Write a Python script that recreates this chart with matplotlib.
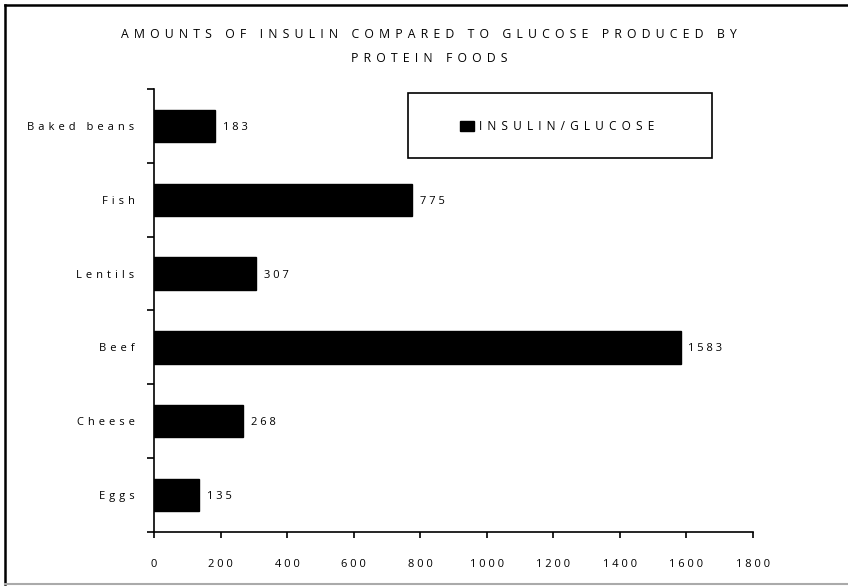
import matplotlib
matplotlib.use("Agg")
import matplotlib.pyplot as plt
from matplotlib.lines import Line2D
from matplotlib.patches import Rectangle
from matplotlib.ticker import FixedLocator

categories = ["Eggs", "Cheese", "Beef", "Lentils", "Fish", "Baked beans"]
values = [135, 268, 1583, 307, 775, 183]
xticks = [0, 200, 400, 600, 800, 1000, 1200, 1400, 1600, 1800]
title_lines = ["AMOUNTS OF INSULIN COMPARED TO GLUCOSE PRODUCED BY", "PROTEIN FOODS"]
series_name = "INSULIN/GLUCOSE"

FONT = "Open Sans"
plt.rcParams["font.family"] = [FONT, "DejaVu Sans"]


def spaced(s, gap=" "):
    return gap.join(s)


WIDE = " \u2009"
MID = " \u200a"

W, H = 848, 586
fig = plt.figure(figsize=(W / 100, H / 100), dpi=100)
fig.patch.set_facecolor("white")

x0, x1, ytop, ybot = 154, 753, 89, 532
ax = fig.add_axes([x0 / W, (H - ybot) / H, (x1 - x0) / W, (ybot - ytop) / H])

pos = list(range(len(categories)))
ax.barh(pos, values, height=0.44, color="black", edgecolor="black")
for p, v in zip(pos, values):
    ax.annotate(spaced(str(v)), (v, p), xytext=(5.5, 0), textcoords="offset points",
                ha="left", va="center_baseline", fontsize=8)

ax.set_xlim(0, 1800)
ax.set_ylim(-0.5, len(categories) - 0.5)
ax.set_xticks(xticks)
ax.set_xticklabels([spaced(str(t)) for t in xticks], fontsize=8)
ax.set_yticks(pos)
ax.set_yticklabels([spaced(c, MID) for c in categories], fontsize=8, va="center_baseline")
ax.yaxis.set_minor_locator(FixedLocator([i - 0.5 for i in range(len(categories) + 1)]))
ax.tick_params(axis="y", which="major", length=0, pad=14)
ax.tick_params(axis="y", which="minor", length=5, width=1.2, direction="out")
ax.tick_params(axis="x", which="major", length=4.5, width=1.2, direction="out", pad=15)
for s in ["top", "right"]:
    ax.spines[s].set_visible(False)
for s in ["left", "bottom"]:
    ax.spines[s].set_linewidth(1.2)

fig.text(429 / W, 1 - 34 / H, spaced(title_lines[0], WIDE),
         ha="center", va="center", fontsize=8.8)
fig.text(429 / W, 1 - 58 / H, spaced(title_lines[1], WIDE),
         ha="center", va="center", fontsize=8.8)

# legend box
fig.patches.append(Rectangle((408 / W, 1 - 158 / H), (712 - 408) / W, (158 - 93) / H,
                             transform=fig.transFigure, fill=False, edgecolor="black",
                             linewidth=1.2))
fig.patches.append(Rectangle((460 / W, 1 - 131 / H), 14 / W, 10 / H,
                             transform=fig.transFigure, facecolor="black", edgecolor="black"))
fig.text(479 / W, 1 - 127 / H, spaced(series_name, WIDE), ha="left", va="center", fontsize=8.6)

# outer frame
fig.lines.append(Line2D([5 / W, 5 / W], [1 - 5 / H, 1 - 584 / H], transform=fig.transFigure,
                        color="black", linewidth=1.8))
fig.lines.append(Line2D([5 / W, 1], [1 - 5 / H, 1 - 5 / H], transform=fig.transFigure,
                        color="black", linewidth=1.8))
fig.lines.append(Line2D([5 / W, 1], [1 - 584 / H, 1 - 584 / H], transform=fig.transFigure,
                        color="#aaaaaa", linewidth=1.5))

fig.savefig("out.png", dpi=100)
